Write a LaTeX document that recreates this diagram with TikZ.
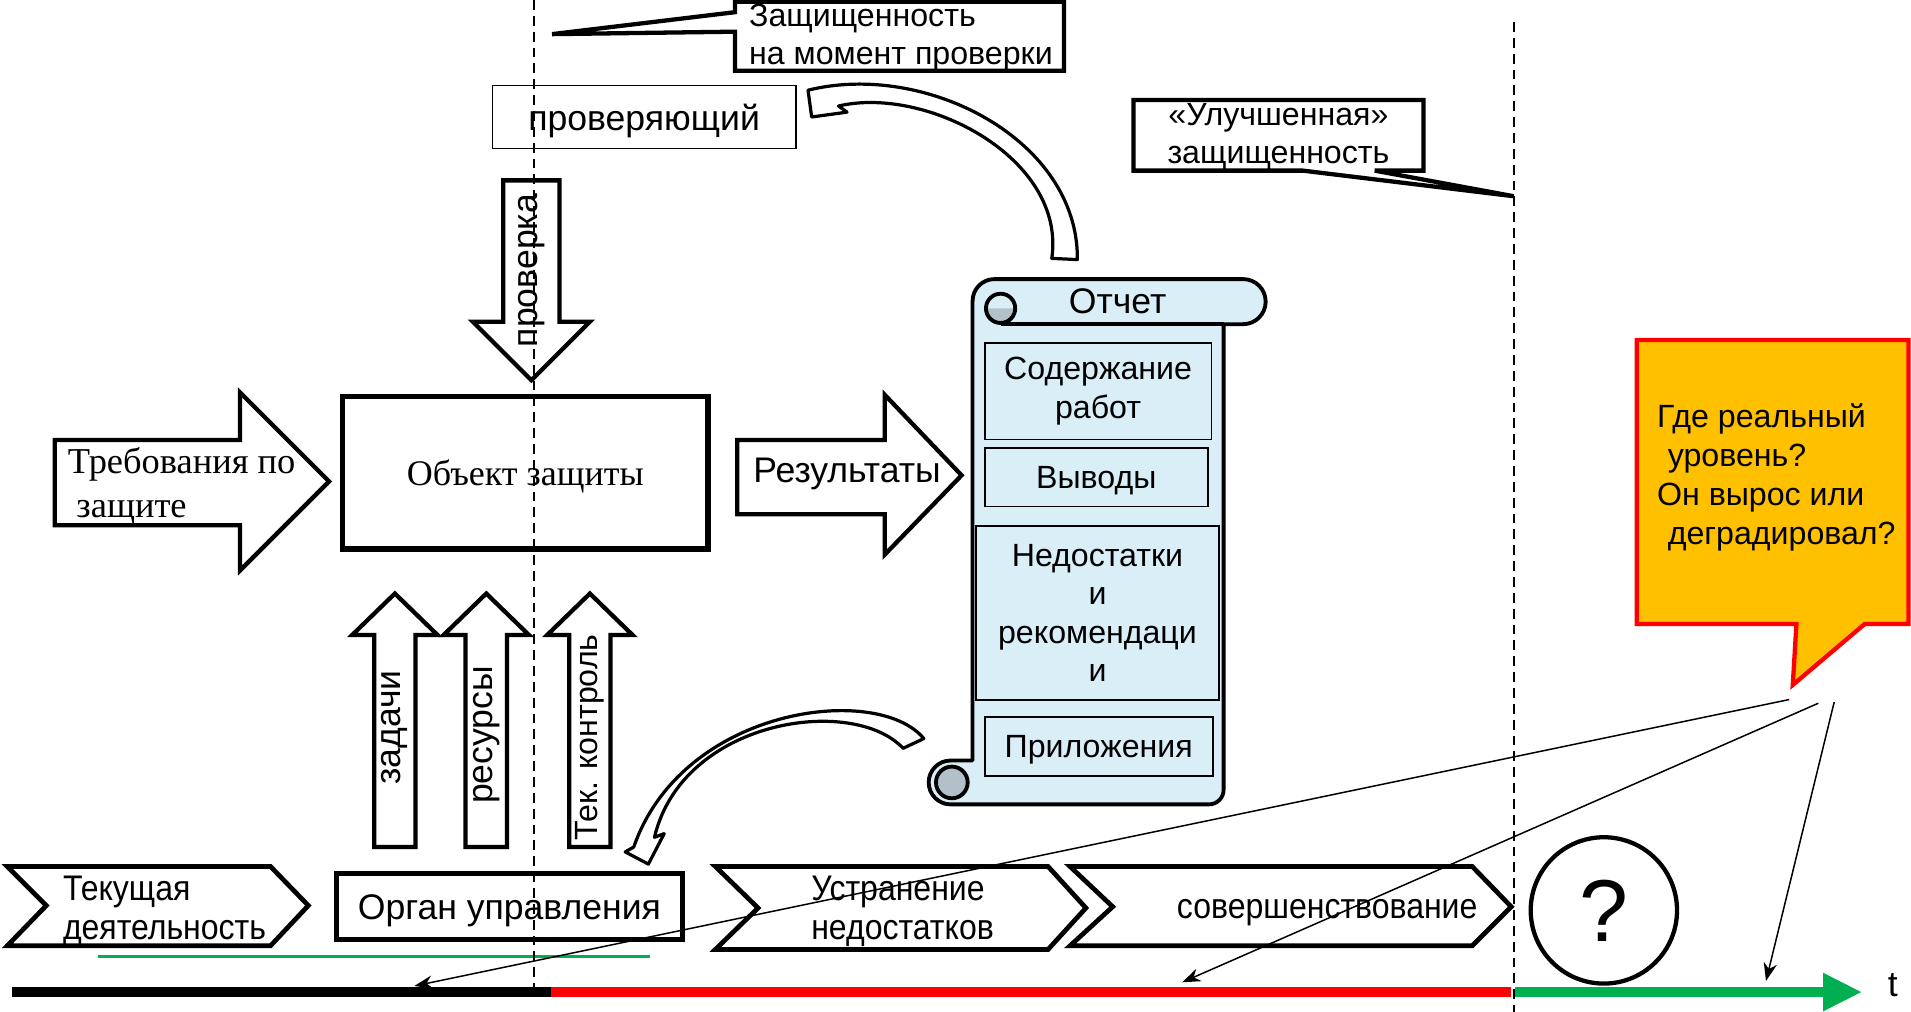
\documentclass[tikz,border=0pt]{standalone}
\usepackage{fontspec}
\setmainfont{Liberation Sans}
\newfontfamily\romanface{Liberation Serif}
\newfontfamily\narrowface[FakeStretch=0.9]{Liberation Sans}
\usepackage{tikz}
\usetikzlibrary{
    positioning,
    arrows.meta,
    calc
}

\definecolor{scrollblue}{RGB}{218,238,247}
\definecolor{curlgray}{RGB}{178,192,201}
\definecolor{calloutorange}{RGB}{255,192,0}
\definecolor{calloutred}{RGB}{255,0,0}
\definecolor{barred}{RGB}{255,0,0}
\definecolor{bargreen}{RGB}{0,176,80}

\newcommand{\bigsize}{\fontsize{8.3}{9.1}\selectfont}
\newcommand{\smallsize}{\fontsize{7.5}{9.0}\selectfont}

\begin{document}
\begin{tikzpicture}[x=0.01cm, y=-0.01cm, font=\bigsize,
  box/.style={draw, line width=1.2pt, inner sep=0pt, align=center, text depth=0pt},
  blockarrow/.style={draw, line width=1pt, fill=white, line join=miter},
  chevron/.style={draw, line width=1.1pt, fill=white, line join=miter},
  bendarrow/.style={draw, line width=0.75pt, fill=white, line join=round},
  callout/.style={draw, line width=1pt, fill=white, line join=miter},
  item/.style={draw, line width=0.4pt, fill=scrollblue, inner sep=0pt, align=center, font=\smallsize},
  lefttext/.style={anchor=west, align=left, inner sep=0pt},
  bar/.style={line width=0.083cm},
  pointer/.style={-{Stealth[length=1.5mm, width=1.1mm]}, line width=0.35pt},
  divider/.style={line width=0.45pt, dash pattern=on 2.3pt off 1.4pt}]

  \useasboundingbox (0,0) rectangle (1568,830);

  % Time axis
  \draw[bar] (10,814) -- (452,814);
  \draw[bar, draw=barred] (452,814) -- (1240,814);
  \draw[bar, draw=bargreen, -{Triangle[length=0.32cm, width=0.29cm]}] (1243,814) -- (1528,814);
  \draw[draw=bargreen, line width=0.6pt] (80,785) -- (533,785);
  \node[inner sep=0pt] (taxis) at (1553,808) {t};

  % Stages along the axis
  \draw[chevron] (6,711) -- (222,711) -- (253,743) -- (222,776) -- (6,776) -- (38,743) -- cycle;
  \node[lefttext, font=\narrowface\bigsize] (curwork) at (51,748) {Текущая\\деятельность};
  \draw[chevron] (587,711) -- (860,711) -- (891,745) -- (860,779) -- (587,779) -- (622,745) -- cycle;
  \node[lefttext, font=\narrowface\bigsize] (fixing) at (665,748) {Устранение\\недостатков};
  \draw[chevron] (878,711) -- (1208,711) -- (1240,744) -- (1208,776) -- (878,776) -- (913,744) -- cycle;
  \node[font=\narrowface\bigsize, text depth=0pt] (improve) at (1089,746) {совершенствование};
  \node[circle, draw, line width=1pt, minimum size=1.2cm, inner sep=0pt,
        font=\fontsize{20.5}{24}\selectfont] (unknown) at (1316,747) {?};

  % Main boxes
  \node[box, line width=1.3pt, minimum width=3cm, minimum height=1.25cm,
        font=\romanface\fontsize{8.4}{10}\selectfont] (object) at (431,388) {Объект защиты};
  \node[box, minimum width=2.84cm, minimum height=0.54cm] (mgmt) at (418,744) {Орган управления};
  \node[draw, line width=0.35pt, minimum width=2.49cm, minimum height=0.52cm, text depth=0pt] (inspector) at (528.5,96) {проверяющий};

  % Block arrows
  \draw[blockarrow] (45,361) -- (197,361) -- (197,322) -- (270,395) -- (197,468) -- (197,431) -- (45,431) -- cycle;
  \node[lefttext, font=\romanface\fontsize{8.5}{10.2}\selectfont] (reqtext) at (55,399) {Требования по\\\hspace{2pt}защите};
  \draw[blockarrow] (605,361) -- (726,361) -- (726,324) -- (789,390) -- (726,455) -- (726,422) -- (605,422) -- cycle;
  \node (results) at (695,389) {Результаты};
  \draw[blockarrow] (413,148) -- (459,148) -- (459,264) -- (484,264) -- (436,312) -- (388,264) -- (413,264) -- cycle;
  \node[rotate=90] (check) at (436,222) {проверка};
  \foreach \cx/\ty/\fnt/\txt in {324/597/\bigsize/задачи, 399/603/\bigsize/ресурсы, 484/605/\smallsize/{Тек. контроль}} {
    \draw[blockarrow] (\cx-17,695) -- (\cx-17,521) -- (\cx-35,521) -- (\cx,487)
      -- (\cx+35,521) -- (\cx+17,521) -- (\cx+17,695) -- cycle;
    \node[rotate=90, font=\fnt] at (\cx,\ty) {\txt};
  }

  % Report scroll
  \draw[line width=0.9pt, fill=scrollblue, line join=round]
    (816,229) -- (1020,229) arc[start angle=-90, end angle=90, radius=18.5]
    -- (1004,266) -- (1004,648) arc[start angle=0, end angle=90, radius=12]
    -- (780,660) arc[start angle=90, end angle=270, radius=18]
    -- (798,624) -- (798,247) arc[start angle=180, end angle=270, radius=18] -- cycle;
  \draw[line width=0.9pt] (821,266) -- (1004,266);
  \fill[curlgray] (809,253) arc[start angle=180, end angle=0, radius=12] -- cycle;
  \draw[line width=0.9pt] (821,253) circle[radius=12];
  \draw[line width=0.9pt, fill=curlgray] (781,642) circle[radius=13];
  \node (reporttitle) at (917,247) {Отчет};
  \node[item, minimum width=1.86cm, minimum height=0.79cm] (content) at (901,321) {Содержание\\работ};
  \node[item, minimum width=1.83cm, minimum height=0.48cm, text depth=0pt] (findings) at (899.5,391.5) {Выводы};
  \node[item, minimum width=1.99cm, minimum height=1.43cm] (flaws) at (900.5,503) {Недостатки\\и\\рекомендаци\\и};
  \node[item, minimum width=1.87cm, minimum height=0.48cm, text depth=0pt] (annex) at (901.5,612.5) {Приложения};

  % Curved arrows
  \draw[bendarrow] (663,74) .. controls (760,50) and (885,115) .. (884,213)
    -- (863,212) .. controls (875,130) and (760,70) .. (688,87)
    -- (695,92) -- (666,96) -- cycle;
  \draw[bendarrow] (758,606) .. controls (720,560) and (560,580) .. (520,695)
    -- (513,699) -- (532,709) -- (545,684) -- (537,687)
    .. controls (560,590) and (700,570) .. (741,614) -- cycle;

  % Callouts
  \draw[callout] (603,1.5) -- (873,1.5) -- (873,58) -- (603,58) -- (603,26) -- (453,28) -- (603,10) -- cycle;
  \node[lefttext, font=\smallsize] (secnow) at (614,31) {Защищенность\\на момент проверки};
  \draw[callout] (930,82) -- (1168,82) -- (1168,140) -- (1128,140) -- (1242,161) -- (1069,140) -- (930,140) -- cycle;
  \node[align=center, inner sep=0pt, font=\smallsize] (secbetter) at (1049,112) {«Улучшенная»\\защищенность};
  \draw[callout, draw=calloutred, fill=calloutorange]
    (1343,279) -- (1566,279) -- (1566,512) -- (1530,512) -- (1471,562) -- (1474,512) -- (1343,512) -- cycle;
  \node[lefttext, font=\fontsize{7.5}{9.1}\selectfont] (question) at (1359,392)
    {Где реальный\\\hspace{2.5pt}уровень?\\Он вырос или\\\hspace{2.5pt}деградировал?};

  % Pointers from the question to the axis
  \coordinate (from1) at (1468,574);
  \coordinate (from2) at (1492,577);
  \coordinate (from3) at (1505,576);
  \coordinate (hit1) at (340,809);
  \coordinate (hit2) at (970,806);
  \coordinate (hit3) at (1449,805);
  \draw[pointer] (from1) -- (hit1);
  \draw[pointer] (from2) -- (hit2);
  \draw[pointer] (from3) -- (hit3);

  % Moments in time
  \draw[divider] (438,0) -- (438,812);
  \draw[divider] (1242,18) -- (1242,830);
\end{tikzpicture}
\end{document}
